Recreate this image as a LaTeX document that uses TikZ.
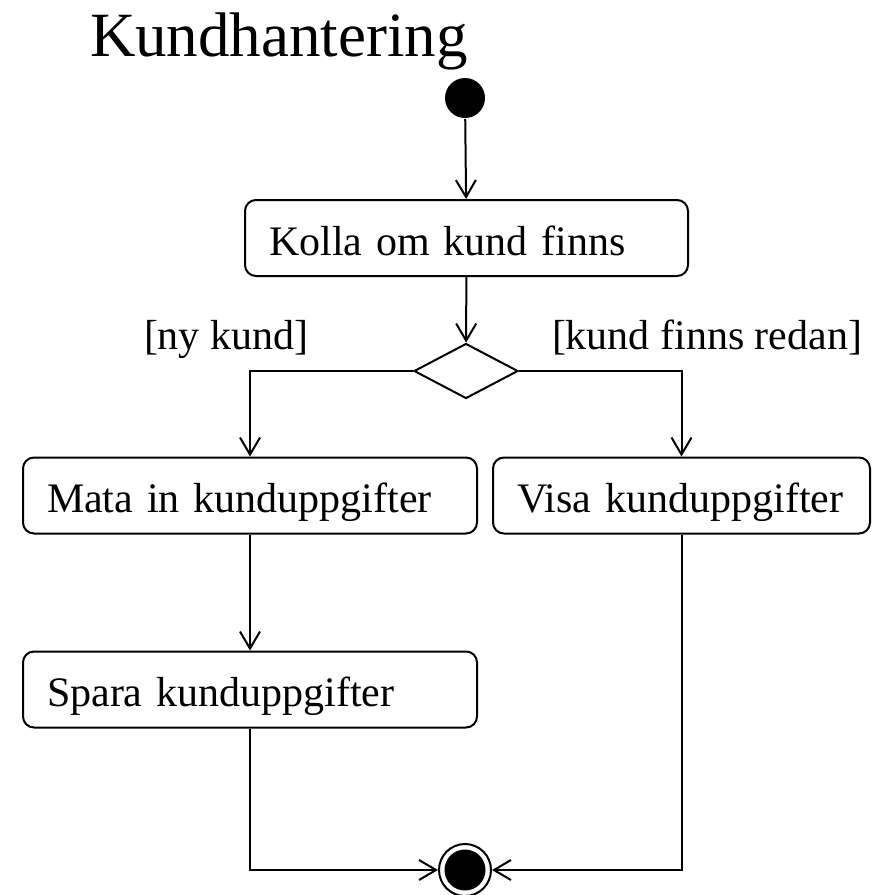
\documentclass[tikz,border=0pt]{standalone}
\usepackage{fontspec}
\setmainfont{Liberation Serif}
\usetikzlibrary{arrows.meta,shapes.geometric}
\begin{document}
\begin{tikzpicture}[x=1pt,y=-1pt,line width=2pt,
  flow/.style={-{Straight Barb[length=17pt,width=20pt,line width=2pt]}},
  action/.style={draw, rounded corners=11pt, minimum height=76pt,
    inner xsep=24pt, inner ysep=0pt, align=left,
    font=\fontsize{42}{48}\selectfont, text height=34pt, text depth=0pt},
  guard/.style={font=\fontsize{42}{48}\selectfont, inner sep=0pt, anchor=base west},
  heading/.style={font=\fontsize{63}{70}\selectfont, inner sep=0pt, anchor=base west},
  startdot/.style={circle, fill=black, draw=none, minimum size=40pt, inner sep=0pt},
  decision/.style={diamond, draw, minimum width=104pt, minimum height=55pt, inner sep=0pt},
  endring/.style={circle, draw, fill=white, minimum size=52pt, inner sep=0pt},
  enddot/.style={circle, fill=black, draw=none, minimum size=41pt, inner sep=0pt}]
  \useasboundingbox (0,0) rectangle (881,895);

  % title
  \node[heading] (title) at (89,56) {Kundhantering};

  % activity nodes
  \node[startdot] (start) at (465,98) {};
  \node[action, text width=395pt] (check) at (466.5,238) {Kolla om kund finns};
  \node[decision] (choice) at (466,371) {};
  \node[action, text width=406pt] (enter) at (250,495.5) {Mata in kunduppgifter};
  \node[action, text width=329pt] (show) at (681.5,495.5) {Visa kunduppgifter};
  \node[action, text width=406pt] (save) at (250,689.5) {Spara kunduppgifter};
  \node[endring] (end) at (465,870) {};
  \node[enddot] (endcore) at (end.center) {};

  % guards
  \node[guard] (newguard) at (143,349) {[ny kund]};
  \node[guard] (oldguard) at (551,349) {[kund finns redan]};

  % control flow
  \draw[flow] (start) -- (check);
  \draw[flow] (check) -- (choice);
  \draw[flow] (choice.west) -| (enter.north);
  \draw[flow] (choice.east) -| (show.north);
  \draw[flow] (enter) -- (save);
  \draw[flow] (save.south) |- (end.west);
  \draw[flow] (show.south) |- (end.east);
\end{tikzpicture}
\end{document}
